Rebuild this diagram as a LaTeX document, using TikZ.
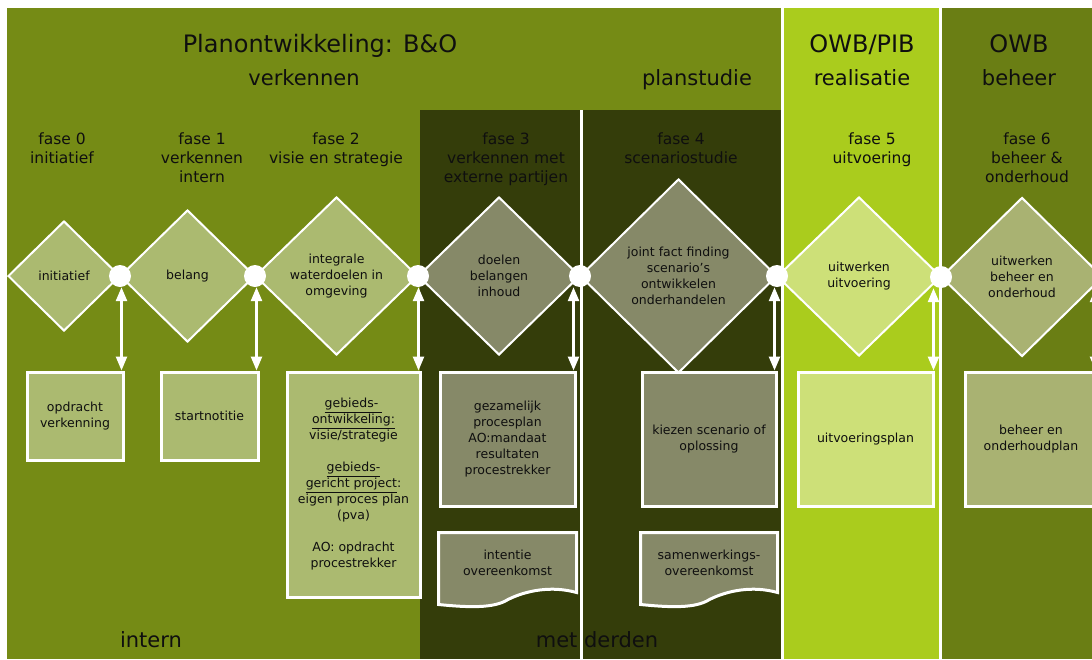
\documentclass[tikz,border=0pt]{standalone}
\usepackage{fontspec}
\setmainfont{DejaVu Sans}
\usetikzlibrary{arrows.meta, positioning, calc, shapes.geometric, backgrounds}

\definecolor{olijf}{RGB}{117,139,21}
\definecolor{donker}{RGB}{52,61,10}
\definecolor{limoen}{RGB}{170,204,29}
\definecolor{beheergroen}{RGB}{106,126,20}
\definecolor{lichtolijf}{RGB}{171,186,112}
\definecolor{grijsgroen}{RGB}{134,137,104}
\definecolor{lichtlimoen}{RGB}{205,224,120}
\definecolor{beheerlicht}{RGB}{169,178,114}
\definecolor{tekst}{RGB}{15,15,15}

\begin{document}
\begin{tikzpicture}[
    x=1pt, y=-1pt,
    kop/.style={font=\fontsize{24}{28}\selectfont, anchor=base, text=tekst},
    subkop/.style={font=\fontsize{21}{25}\selectfont, anchor=base, text=tekst},
    fase/.style={font=\fontsize{15.5}{19}\selectfont, align=center, anchor=north, inner sep=0pt, text=tekst},
    dia/.style={diamond, draw=white, line width=2pt, align=center, inner sep=0pt, text=tekst,
                font=\fontsize{12.5}{16}\selectfont},
    knoop/.style={circle, fill=white, minimum size=22pt, inner sep=0pt},
    box/.style={draw=white, line width=3pt, align=center, inner sep=2pt, text=tekst,
                font=\fontsize{12.5}{16}\selectfont},
    doc/.style={box, draw=none},
    docrand/.style={draw=white, line width=3pt},
    darr/.style={{Triangle[length=14pt,width=11pt]}-{Triangle[length=14pt,width=11pt]}, draw=white, line width=2.5pt},
    scheiding/.style={draw=white, line width=2.5pt}
]

\useasboundingbox (0,0) rectangle (1092,659);

\begin{scope}[on background layer]
\fill[white] (0,0) rectangle (1092,659);
\fill[olijf] (7,8) rectangle (783,659);
\fill[donker] (420,110) rectangle (781,659);
\fill[limoen] (783,8) rectangle (940,659);
\fill[beheergroen] (940,8) rectangle (1092,659);
\draw[scheiding] (782.5,8) -- (782.5,659);
\draw[scheiding] (940.5,8) -- (940.5,659);
\draw[scheiding] (581.5,110) -- (581.5,659);
\end{scope}

% koppen
\node[kop] (plan) at (320,52) {Planontwikkeling: B\&O};
\node[subkop] (verk) at (304,85) {verkennen};
\node[subkop] (plst) at (697,85) {planstudie};
\node[kop] (owbpib) at (862,52) {OWB/PIB};
\node[subkop] (real) at (862,85) {realisatie};
\node[kop] (owb) at (1019,52) {OWB};
\node[subkop] (behr) at (1019,85) {beheer};

\node[fase] (f0) at (62,133) {fase 0\\initiatief};
\node[fase] (f1) at (202,133) {fase 1\\verkennen\\intern};
\node[fase] (f2) at (336,133) {fase 2\\visie en strategie};
\node[fase] (f3) at (506,133) {fase 3\\verkennen met\\externe partijen};
\node[fase] (f4) at (681,133) {fase 4\\scenariostudie};
\node[fase] (f5) at (872,133) {fase 5\\uitvoering};
\node[fase] (f6) at (1027,133) {fase 6\\beheer \&\\onderhoud};

% ruiten
\coordinate (k0) at (8,276);
\coordinate (k1) at (120,276);
\coordinate (k2) at (255,276);
\coordinate (k3) at (418,276);
\coordinate (k4) at (580,276);
\coordinate (k5) at (777,276);
\coordinate (k6) at (941,277);
\coordinate (k7) at (1103,277);

\node[dia, fill=lichtolijf, minimum width=112pt, minimum height=110pt] (d0) at ($(k0)!.5!(k1)$) {initiatief};
\node[dia, fill=lichtolijf, minimum width=135pt, minimum height=132pt] (d1) at ($(k1)!.5!(k2)$) {belang};
\node[dia, fill=lichtolijf, minimum width=163pt, minimum height=158pt] (d2) at ($(k2)!.5!(k3)$) {integrale\\waterdoelen in\\omgeving};
\node[dia, fill=grijsgroen, minimum width=162pt, minimum height=158pt] (d3) at ($(k3)!.5!(k4)$) {doelen\\belangen\\inhoud};
\node[dia, fill=grijsgroen, minimum width=197pt, minimum height=194pt] (d4) at ($(k4)!.5!(k5)$) {joint fact finding\\scenario’s\\ontwikkelen\\onderhandelen};
\node[dia, fill=lichtlimoen, minimum width=164pt, minimum height=159pt] (d5) at ($(k5)!.5!(k6)$) {uitwerken\\uitvoering};
\node[dia, fill=beheerlicht, minimum width=162pt, minimum height=159pt] (d6) at ($(k6)!.5!(k7)$) {uitwerken\\beheer en\\onderhoud};

\node[knoop] (c1) at (k1) {};
\node[knoop] (c2) at (k2) {};
\node[knoop] (c3) at (k3) {};
\node[knoop] (c4) at (k4) {};
\node[knoop] (c5) at (k5) {};
\node[knoop] (c6) at (k6) {};
\node[knoop] (c7) at (k7) {};

% producten
\node[box, fill=lichtolijf, minimum width=96pt, minimum height=88pt] (opdr) at (75,416) {opdracht\\verkenning};
\node[box, fill=lichtolijf, minimum width=97pt, minimum height=88pt] (start) at (209.5,416) {startnotitie};
\node[box, fill=lichtolijf, minimum width=133pt, minimum height=225pt] (gebied) at (353.5,484.5)
    {\underline{gebieds-\ }\\\underline{ontwikkeling:}\\visie/strategie\\[16pt]
     \underline{gebieds-}\\\underline{gericht project}:\\eigen proces plan\\(pva)\\[16pt]
     AO: opdracht\\procestrekker};
\node[box, fill=grijsgroen, minimum width=135pt, minimum height=134pt] (gez) at (507.5,439)
    {gezamelijk\\procesplan\\AO:mandaat\\resultaten\\procestrekker};
\node[box, fill=grijsgroen, minimum width=134pt, minimum height=134pt] (kies) at (709,439) {kiezen scenario of\\oplossing};
\node[box, fill=lichtlimoen, minimum width=135pt, minimum height=134pt] (uitv) at (865.5,439) {uitvoeringsplan};
\node[box, fill=beheerlicht, minimum width=132pt, minimum height=134pt] (behp) at (1031,439) {beheer en\\onderhoudplan};

\node[doc, minimum width=135pt, minimum height=57pt, below=25pt of gez] (int) {intentie\\overeenkomst};
\node[doc, minimum width=134pt, minimum height=57pt, below=25pt of kies] (samen) {samenwerkings-\\overeenkomst};

\begin{scope}[on background layer]
\draw[docrand, fill=grijsgroen] (int.north west) -- (int.north east) -- (int.south east)
    .. controls +(-25,-7) and +(18,-9) .. ($(int.south)+(0.5,7)$)
    .. controls +(-14,9) and +(30,3) .. ($(int.south west)+(0,12)$) -- cycle;
\draw[docrand, fill=grijsgroen] (samen.north west) -- (samen.north east) -- (samen.south east)
    .. controls +(-25,-7) and +(18,-9) .. ($(samen.south)+(0.5,7)$)
    .. controls +(-14,9) and +(30,3) .. ($(samen.south west)+(0,12)$) -- cycle;
\end{scope}

\draw[darr] ([xshift=-3]opdr.north east) -- ([xshift=-3]opdr.north east |- c1.south);
\draw[darr] ([xshift=-3]start.north east) -- ([xshift=-3]start.north east |- c2.south);
\draw[darr] ([xshift=-3]gebied.north east) -- ([xshift=-3]gebied.north east |- c3.south);
\draw[darr] ([xshift=-3]gez.north east) -- ([xshift=-3]gez.north east |- c4.south);
\draw[darr] ([xshift=-3]kies.north east) -- ([xshift=-3]kies.north east |- c5.south);
\draw[darr] ([xshift=-1]uitv.north east) -- ([xshift=-1]uitv.north east |- c6.south);
\draw[darr] ([xshift=-3]behp.north east) -- ([xshift=-3]behp.north east |- c7.south);

% onderschrift
\node[subkop] (intern) at (151,647) {intern};
\node[subkop] (derden) at (597,647) {met derden};
\end{tikzpicture}
\end{document}
